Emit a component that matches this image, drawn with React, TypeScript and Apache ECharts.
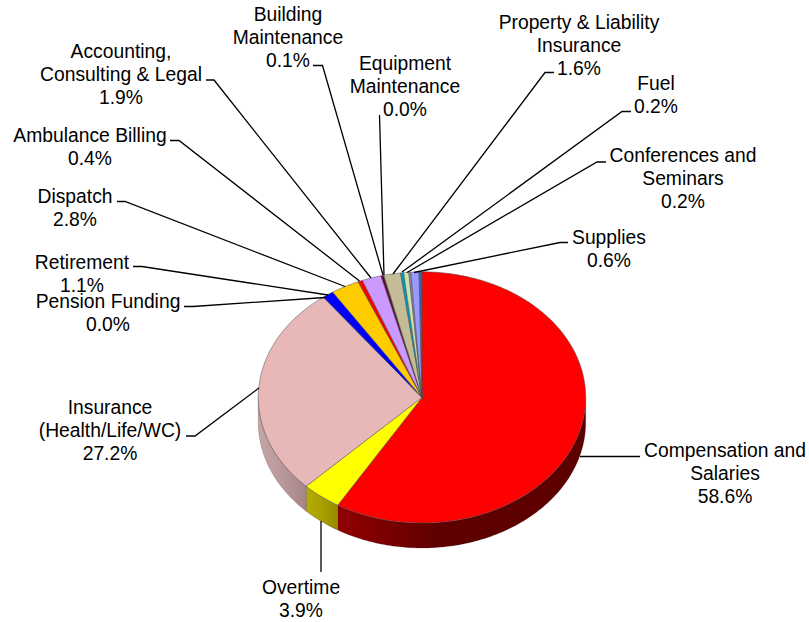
import React, { useEffect, useRef } from "react";
import * as echarts from "echarts";

// Slice shares, clockwise from 12 o'clock
const sliceNames = [
  "Compensation and Salaries", "Overtime", "Insurance (Health/Life/WC)", "Pension Funding", "Retirement",
  "Dispatch", "Ambulance Billing", "Accounting, Consulting & Legal", "Building Maintenance", "Equipment Maintenance",
  "Property & Liability Insurance", "Fuel", "Conferences and Seminars", "Unlabeled A", "Supplies", "Unlabeled B",
];
const sliceValues = [58.6, 3.9, 27.2, 0.02, 1.1, 2.8, 0.45, 1.9, 0.25, 0.04, 1.65, 0.3, 0.5, 0.2, 0.8, 0.29];
const sliceColors = [
  "#FF0000", "#FFFF00", "#E8B8B8", "#9999FF", "#0000FF", "#FFCC00", "#FF0000", "#CC99FF", "#660033", "#1A1A1A",
  "#C4BC96", "#0099CC", "#CCE3AC", "#9A80AA", "#9999FF", "#3F5F9F",
];
const wallStops: Record<number, [string, string, string]> = {
  0: ["#920000", "#5E0000", "#5C0000"],
  1: ["#B4AC00", "#A8A000", "#928C00"],
  2: ["#C4A6A6", "#B89898", "#A58585"],
};

// Label text as printed in the chart
const labelLines = [
  "Compensation and\nSalaries\n58.6%",
  "Overtime\n3.9%",
  "Insurance\n(Health/Life/WC)\n27.2%",
  "Pension Funding\n0.0%",
  "Retirement\n1.1%",
  "Dispatch\n2.8%",
  "Ambulance Billing\n0.4%",
  "Accounting,\nConsulting & Legal\n1.9%",
  "Building\nMaintenance\n0.1%",
  "Equipment\nMaintenance\n0.0%",
  "Property & Liability\nInsurance\n1.6%",
  "Fuel\n0.2%",
  "Conferences and\nSeminars\n0.2%",
  "Supplies\n0.6%",
];
// Layout: label centre and leader polyline, same order as labelLines
const labelCentres: [number, number][] = [
  [725, 473.5], [301, 598.5], [110, 430.5], [108, 312.5], [82, 273.5], [75, 207.5], [90, 146.5], [121, 74.5], [288, 37.5],
  [405, 86.5], [579, 45.5], [656, 94.5], [683, 178.5], [609, 248.5],
];
const leaderPaths: [number, number][][] = [
  [[640, 456.5], [580, 456.5]],
  [[321, 572], [321, 521]],
  [[186, 436], [195, 436], [259, 388]],
  [[184, 306.5], [193, 306.5], [325, 297.5]],
  [[133, 266.5], [142, 266.5], [328, 295]],
  [[117, 201.5], [125, 201.5], [345, 286.5]],
  [[170, 140.5], [179, 140.5], [359.5, 281]],
  [[206, 80], [214, 80], [371, 278]],
  [[313, 65.5], [322.5, 65.5], [383, 275]],
  [[379.5, 115], [384, 275]],
  [[554, 72.5], [545, 72.5], [393, 274]],
  [[631, 111.5], [622, 111.5], [402, 272]],
  [[606, 162], [597, 162], [407, 272.5]],
  [[568, 242.5], [560, 242.5], [414, 272.5]],
];

const CX = 422;
const CY = 397.4;
const RX = 163.7;
const RY = 125.6;
const DEPTH = 25;

const total = sliceValues.reduce((a, b) => a + b, 0);
const rimPoint = (t: number, dy = 0): [number, number] => [CX + RX * Math.sin(t), CY - RY * Math.cos(t) + dy];
const arcPoints = (a: number, b: number, dy = 0) => {
  const n = Math.max(2, Math.ceil(Math.abs(b - a) / 0.015));
  const pts: [number, number][] = [];
  for (let i = 0; i <= n; i++) pts.push(rimPoint(a + ((b - a) * i) / n, dy));
  return pts;
};

function sliceAngles(i: number): [number, number] {
  let s = 0;
  for (let k = 0; k < i; k++) s += sliceValues[k];
  return [(s / total) * Math.PI * 2, ((s + sliceValues[i]) / total) * Math.PI * 2];
}

function renderSlice(params: any) {
  const i = params.dataIndex;
  const [a, b] = sliceAngles(i);
  const children: any[] = [];
  const wa = Math.max(a, Math.PI / 2);
  const wb = Math.min(b, Math.PI * 1.5);
  if (wb > wa) {
    const stops = wallStops[i] || [sliceColors[i], sliceColors[i], sliceColors[i]];
    children.push({
      type: "polygon",
      shape: { points: [...arcPoints(wa, wb), ...arcPoints(wb, wa, DEPTH)] },
      style: {
        fill: new echarts.graphic.LinearGradient(0, 0, 1, 0, [
          { offset: 0, color: stops[0] },
          { offset: i === 0 ? 0.4 : 0.5, color: stops[1] },
          { offset: 1, color: stops[2] },
        ]),
        stroke: "rgba(60,30,30,0.45)",
        lineWidth: 0.5,
      },
    });
  }
  children.push({
    type: "polygon",
    shape: { points: [[CX, CY], ...arcPoints(a, b)] },
    style: { fill: sliceColors[i], stroke: "#4a4a4a", lineWidth: 0.5 },
  });
  return { type: "group", children };
}

function renderLabel(params: any) {
  const i = params.dataIndex;
  const [x, y] = labelCentres[i];
  return {
    type: "group",
    children: [
      {
        type: "polyline",
        shape: { points: leaderPaths[i] },
        style: { fill: "none", stroke: "#000000", lineWidth: 1.3 },
      },
      {
        type: "text",
        style: {
          text: labelLines[i],
          x,
          y,
          align: "center",
          verticalAlign: "middle",
          lineHeight: 23,
          fontFamily: "Liberation Sans",
          fontSize: 19.3,
          fill: "#000000",
        },
      },
    ],
  };
}

export default function App() {
  const ref = useRef<HTMLDivElement>(null);
  useEffect(() => {
    document.body.style.margin = "0";
    const chart = echarts.init(ref.current!, undefined, { renderer: "svg" });
    chart.setOption({
      animation: false,
      backgroundColor: "#FFFFFF",
      series: [
        {
          type: "custom",
          name: "Slices",
          coordinateSystem: "none",
          renderItem: renderSlice,
          data: sliceValues.map((value, i) => ({ name: sliceNames[i], value })),
          silent: true,
          z: 1,
        },
        {
          type: "custom",
          name: "Labels",
          coordinateSystem: "none",
          renderItem: renderLabel,
          data: labelLines.map((text, i) => ({ name: text, value: i })),
          silent: true,
          z: 2,
        },
      ],
    });
    return () => chart.dispose();
  }, []);
  return <div ref={ref} style={{ width: 809, height: 622 }} />;
}
